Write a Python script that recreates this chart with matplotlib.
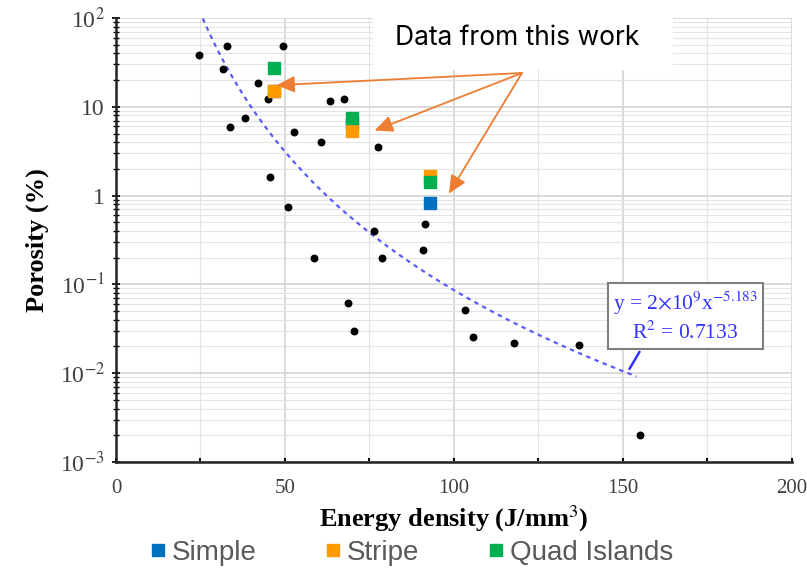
import numpy as np
import matplotlib
matplotlib.use("Agg")
import matplotlib.pyplot as plt
from matplotlib.ticker import LogLocator, NullFormatter, MultipleLocator

plt.rcParams['mathtext.fontset'] = 'stix'

# literature data (black dots)
lit_x = [24.6, 32.8, 31.6, 49.4, 42.0, 45.0, 33.7, 38.2, 52.7, 63.2, 67.5, 60.7, 77.4,
         45.6, 50.8, 76.3, 58.7, 78.6, 68.6, 70.4, 91.4, 90.9, 103.3, 105.6, 117.8, 137.0, 155.0]
lit_y = [38.3, 48.4, 26.7, 48.4, 18.5, 12.2, 5.9, 7.5, 5.2, 11.6, 12.2, 4.0, 3.5,
         1.62, 0.74, 0.40, 0.20, 0.20, 0.062, 0.030, 0.48, 0.245, 0.051, 0.0256, 0.022, 0.021, 0.0020]

# this work
simple_x = [46.7, 69.8, 92.9]
simple_y = [15.0, 6.4, 0.83]
stripe_x = [46.7, 69.8, 92.9]
stripe_y = [15.1, 5.3, 1.65]
quad_x = [46.7, 69.8, 92.9]
quad_y = [27.4, 7.5, 1.41]

# power-law fit y = a * x^b
fit_a = 2e9
fit_b = -5.183
fit_r2 = 0.7133

fig = plt.figure(figsize=(8.07, 5.71), dpi=100)
ax = fig.add_axes([0.1437, 0.1909, 0.8377, 0.7776])

ax.set_yscale('log')
ax.set_xlim(0, 200)
ax.set_ylim(1e-3, 1e2)

# grid
ax.xaxis.set_major_locator(MultipleLocator(50))
ax.xaxis.set_minor_locator(MultipleLocator(25))
ax.yaxis.set_major_locator(LogLocator(base=10, numticks=10))
ax.yaxis.set_minor_locator(LogLocator(base=10, subs=np.arange(2, 10), numticks=20))
ax.yaxis.set_minor_formatter(NullFormatter())
ax.grid(True, which='major', color='#d4d4d4', linewidth=1.2)
ax.grid(True, which='minor', color='#e4e4e4', linewidth=0.8)
ax.set_axisbelow(True)

for s in ['top', 'right']:
    ax.spines[s].set_visible(False)
ax.spines['left'].set_linewidth(1.8)
ax.spines['bottom'].set_linewidth(1.8)
ax.spines['left'].set_color('#222222')
ax.spines['bottom'].set_color('#222222')

ax.tick_params(axis='y', which='major', direction='inout', length=6, width=1.2)
ax.tick_params(axis='y', which='minor', direction='inout', length=4, width=1.0)
ax.tick_params(axis='x', which='both', direction='in', length=3, width=1.5)

ax.set_yticks([1e-3, 1e-2, 1e-1, 1, 10, 100])
ax.set_yticklabels(['10$^{-3}$', '10$^{-2}$', '10$^{-1}$', '1', '10', '10$^{2}$'],
                   fontfamily='Liberation Serif', fontsize=17, color='#404040')
ax.set_xticks([0, 50, 100, 150, 200])
ax.set_xticklabels(['0', '50', '100', '150', '200'],
                   fontfamily='Liberation Serif', fontsize=15, color='#404040')
ax.tick_params(axis='x', pad=12)
ax.tick_params(axis='y', pad=5)

ax.set_xlabel('Energy density (J/mm$^{3}$)', fontfamily='Liberation Serif', fontweight='bold',
              fontsize=19, labelpad=4)
ax.set_ylabel('Porosity (%)', fontfamily='Liberation Serif', fontweight='bold',
              fontsize=19, labelpad=8)

# trend line
xf = np.linspace(25.7, 154, 200)
ax.plot(xf, fit_a * xf ** fit_b, linestyle=(0, (2, 2)), color='#5a5aff', linewidth=1.6, zorder=2)

ax.scatter(lit_x, lit_y, s=22, color='black', zorder=3)
ax.scatter(simple_x, simple_y, s=70, marker='s', color='#0070c0', zorder=4)
ax.scatter(stripe_x, stripe_y, s=70, marker='s', color='#ff9900', zorder=5)
ax.scatter(quad_x, quad_y, s=70, marker='s', color='#00b050', zorder=6)

# equation box
ax.text(168.5, 0.043, 'y = 2$\\times$10$^{9}$x$^{%s}$\nR$^{2}$ = %s' % (fit_b, fit_r2),
        fontfamily='Liberation Serif', fontsize=15.5, color='#3333ff', ha='center', va='center',
        linespacing=1.25,
        bbox=dict(boxstyle='square,pad=0.22', facecolor='white', edgecolor='#7f7f7f', linewidth=1.5),
        zorder=7)
ax.annotate('', xy=(151.5, 0.0105), xytext=(155.3, 0.0185),
            arrowprops=dict(arrowstyle='-', color='#3333ff', lw=1.8), zorder=7)

# "Data from this work" callout
fig.patches.append(plt.Rectangle((373 / 807, 1 - 70 / 571), 300 / 807, 70 / 571,
                                 transform=fig.transFigure, facecolor='white', edgecolor='none', zorder=3))
fig.text(517 / 807, 1 - 38 / 571, 'Data from this work', fontfamily='Inter', fontsize=19,
         ha='center', va='center', color='black', zorder=4)

src = ((522 - 116) / 3.38, 10 ** (2 - (73 - 18) / 88.8))
targets = [(47.5, 17.5), (76.5, 5.4), (98.5, 1.05)]
for t in targets:
    ax.annotate('', xy=t, xytext=src,
                arrowprops=dict(arrowstyle='-|>,head_length=1.1,head_width=0.5',
                                color='#ed7d31', lw=1.3, shrinkA=0, shrinkB=0),
                annotation_clip=False, zorder=8)

# legend
handles = [plt.Line2D([], [], marker='s', linestyle='none', color=c, markersize=8)
           for c in ['#0070c0', '#ff9900', '#00b050']]
leg = fig.legend(handles, ['Simple', 'Stripe', 'Quad Islands'], loc='center',
                 bbox_to_anchor=(410 / 807, 1 - 553 / 571), ncol=3, frameon=False,
                 prop={'family': 'Liberation Sans', 'size': 20}, handletextpad=0.1,
                 columnspacing=2.35, handlelength=0.8)
for txt in leg.get_texts():
    txt.set_color('#595959')

fig.savefig('out.png', dpi=100)
